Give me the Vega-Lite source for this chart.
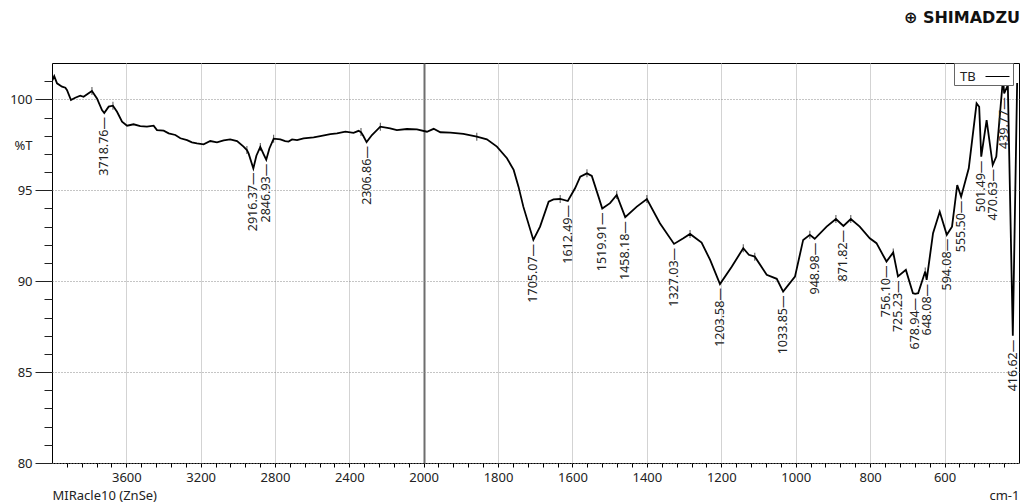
{
  "$schema": "https://vega.github.io/schema/vega-lite/v6.json",
  "width": 967,
  "height": 400,
  "autosize": {"type": "none"},
  "padding": {"left": 52, "top": 63, "right": 2, "bottom": 39},
  "background": "#ffffff",
  "title": {
    "text": "⊕ SHIMADZU",
    "anchor": "end",
    "frame": "group",
    "orient": "top",
    "offset": 37,
    "dx": 1,
    "font": "DejaVu Sans",
    "fontSize": 16,
    "fontWeight": "bold",
    "color": "#111111"
  },
  "config": {
    "font": "Noto Sans",
    "view": {"stroke": "#000000", "strokeWidth": 1}
  },
  "data": {
    "values": [
      {"w": 4000, "t": 101.0},
      {"w": 3988, "t": 101.28},
      {"w": 3973, "t": 100.88},
      {"w": 3946, "t": 100.7},
      {"w": 3928, "t": 100.64},
      {"w": 3919, "t": 100.5},
      {"w": 3898, "t": 99.96},
      {"w": 3875, "t": 100.09},
      {"w": 3848, "t": 100.2},
      {"w": 3830, "t": 100.14},
      {"w": 3803, "t": 100.33},
      {"w": 3785, "t": 100.46, "kind": "max"},
      {"w": 3758, "t": 100.05},
      {"w": 3731, "t": 99.41},
      {"w": 3718.76, "t": 99.25, "kind": "min"},
      {"w": 3695, "t": 99.6},
      {"w": 3672, "t": 99.65, "kind": "max"},
      {"w": 3650, "t": 99.32},
      {"w": 3623, "t": 98.77},
      {"w": 3596, "t": 98.55},
      {"w": 3561, "t": 98.63},
      {"w": 3525, "t": 98.53},
      {"w": 3489, "t": 98.5},
      {"w": 3453, "t": 98.55},
      {"w": 3435, "t": 98.31},
      {"w": 3399, "t": 98.28},
      {"w": 3372, "t": 98.13},
      {"w": 3336, "t": 98.04},
      {"w": 3309, "t": 97.86},
      {"w": 3273, "t": 97.76},
      {"w": 3247, "t": 97.64},
      {"w": 3220, "t": 97.58},
      {"w": 3184, "t": 97.53},
      {"w": 3148, "t": 97.71},
      {"w": 3112, "t": 97.64},
      {"w": 3076, "t": 97.75},
      {"w": 3041, "t": 97.8},
      {"w": 3004, "t": 97.7},
      {"w": 2969, "t": 97.4},
      {"w": 2951, "t": 97.21, "kind": "max"},
      {"w": 2942, "t": 97.03},
      {"w": 2916.37, "t": 96.2, "kind": "min"},
      {"w": 2900, "t": 96.9},
      {"w": 2879, "t": 97.38, "kind": "max"},
      {"w": 2862, "t": 97.0},
      {"w": 2846.93, "t": 96.68, "kind": "min"},
      {"w": 2830, "t": 97.3},
      {"w": 2807, "t": 97.84, "kind": "max"},
      {"w": 2771, "t": 97.8},
      {"w": 2745, "t": 97.7},
      {"w": 2727, "t": 97.68},
      {"w": 2708, "t": 97.8},
      {"w": 2681, "t": 97.76},
      {"w": 2646, "t": 97.86},
      {"w": 2592, "t": 97.91},
      {"w": 2556, "t": 97.98},
      {"w": 2502, "t": 98.09},
      {"w": 2466, "t": 98.13},
      {"w": 2421, "t": 98.22},
      {"w": 2377, "t": 98.16},
      {"w": 2350, "t": 98.27},
      {"w": 2337, "t": 98.2, "kind": "max"},
      {"w": 2325, "t": 98.0},
      {"w": 2306.86, "t": 97.65, "kind": "min"},
      {"w": 2278, "t": 98.04},
      {"w": 2233, "t": 98.5, "kind": "max"},
      {"w": 2180, "t": 98.41},
      {"w": 2144, "t": 98.31},
      {"w": 2090, "t": 98.37},
      {"w": 2036, "t": 98.35},
      {"w": 1991, "t": 98.22},
      {"w": 1973, "t": 98.38},
      {"w": 1955, "t": 98.19},
      {"w": 1928, "t": 98.17},
      {"w": 1893, "t": 98.1},
      {"w": 1857, "t": 97.95, "kind": "max"},
      {"w": 1830, "t": 97.8},
      {"w": 1803, "t": 97.4},
      {"w": 1776, "t": 96.76},
      {"w": 1758, "t": 96.12},
      {"w": 1745, "t": 95.2},
      {"w": 1732, "t": 94.1},
      {"w": 1705.07, "t": 92.27, "kind": "min"},
      {"w": 1687, "t": 93.0},
      {"w": 1664, "t": 94.37},
      {"w": 1651, "t": 94.5},
      {"w": 1633, "t": 94.52, "kind": "max"},
      {"w": 1612.49, "t": 94.41, "kind": "min"},
      {"w": 1593, "t": 95.11},
      {"w": 1579, "t": 95.75},
      {"w": 1561, "t": 95.93, "kind": "max"},
      {"w": 1548, "t": 95.79},
      {"w": 1530, "t": 94.65},
      {"w": 1519.91, "t": 94.0, "kind": "min"},
      {"w": 1499, "t": 94.29},
      {"w": 1481, "t": 94.74, "kind": "max"},
      {"w": 1458.18, "t": 93.52, "kind": "min"},
      {"w": 1427, "t": 94.1},
      {"w": 1400, "t": 94.52, "kind": "max"},
      {"w": 1365, "t": 93.19},
      {"w": 1327.03, "t": 92.05, "kind": "min"},
      {"w": 1302, "t": 92.36},
      {"w": 1284, "t": 92.6, "kind": "max"},
      {"w": 1253, "t": 92.12},
      {"w": 1230, "t": 91.17},
      {"w": 1203.58, "t": 89.84, "kind": "min"},
      {"w": 1172, "t": 90.8},
      {"w": 1141, "t": 91.81, "kind": "max"},
      {"w": 1126, "t": 91.45},
      {"w": 1110, "t": 91.35, "kind": "max"},
      {"w": 1078, "t": 90.35},
      {"w": 1051, "t": 90.13},
      {"w": 1033.85, "t": 89.43, "kind": "min"},
      {"w": 1002, "t": 90.25},
      {"w": 980, "t": 92.27},
      {"w": 962, "t": 92.55, "kind": "max"},
      {"w": 948.98, "t": 92.33, "kind": "min"},
      {"w": 917, "t": 93.0},
      {"w": 892, "t": 93.42, "kind": "max"},
      {"w": 871.82, "t": 93.04, "kind": "min"},
      {"w": 852, "t": 93.42, "kind": "max"},
      {"w": 828, "t": 93.0},
      {"w": 801, "t": 92.36},
      {"w": 783, "t": 92.09},
      {"w": 756.1, "t": 91.08, "kind": "min"},
      {"w": 738, "t": 91.58, "kind": "max"},
      {"w": 725.23, "t": 90.26, "kind": "min"},
      {"w": 704, "t": 90.62},
      {"w": 685, "t": 89.34},
      {"w": 678.94, "t": 89.3, "kind": "min"},
      {"w": 671, "t": 89.34},
      {"w": 652, "t": 90.53, "kind": "max"},
      {"w": 648.08, "t": 90.07, "kind": "min"},
      {"w": 631, "t": 92.64},
      {"w": 613, "t": 93.82},
      {"w": 594.08, "t": 92.55, "kind": "min"},
      {"w": 580, "t": 93.0},
      {"w": 566, "t": 95.29},
      {"w": 555.5, "t": 94.65, "kind": "min"},
      {"w": 535, "t": 96.21},
      {"w": 514, "t": 99.78},
      {"w": 507, "t": 99.59},
      {"w": 501.49, "t": 96.85, "kind": "min"},
      {"w": 487, "t": 98.86},
      {"w": 470.63, "t": 96.39, "kind": "min"},
      {"w": 461, "t": 96.85},
      {"w": 443, "t": 101.15},
      {"w": 439.77, "t": 100.33, "kind": "min"},
      {"w": 430, "t": 100.79},
      {"w": 416.62, "t": 87.0, "kind": "min"},
      {"w": 405, "t": 100.9}
    ]
  },
  "layer": [
    {
      "mark": {"type": "line", "color": "#000000", "strokeWidth": 1.8, "clip": true},
      "encoding": {
        "x": {
          "field": "w",
          "type": "quantitative",
          "scale": {"domain": [4000, 2000, 400], "range": [0, 371.6, 967], "nice": false, "zero": false},
          "axis": {
            "orient": "bottom",
            "values": [3600, 3200, 2800, 2400, 2000, 1800, 1600, 1400, 1200, 1000, 800, 600],
            "format": "d",
            "grid": true,
            "gridColor": {"condition": {"test": "datum.value === 2000", "value": "#6e6e6e"}, "value": "#d3d3d3"},
            "gridWidth": {"condition": {"test": "datum.value === 2000", "value": 2}, "value": 1},
            "domain": false,
            "tickSize": 4,
            "tickColor": "#000000",
            "labelFontSize": 13,
            "labelColor": "#222222",
            "labelPadding": 4,
            "labelFlush": false,
            "labelOverlap": false,
            "title": "MIRacle10 (ZnSe)",
            "titleFontSize": 13,
            "titleFontWeight": "normal",
            "titleColor": "#222222",
            "titleAnchor": "start",
            "titleAlign": "left",
            "titleBaseline": "middle",
            "titleX": 0,
            "titleY": 32
          }
        },
        "y": {
          "field": "t",
          "type": "quantitative",
          "scale": {"domain": [80, 102], "nice": false, "zero": false},
          "axis": {
            "orient": "left",
            "values": [80, 85, 90, 95, 100],
            "grid": true,
            "gridColor": "#8a8a8a",
            "gridDash": [1, 2],
            "domain": false,
            "tickSize": 17,
            "tickColor": "#222222",
            "labelFontSize": 13,
            "labelColor": "#222222",
            "labelPadding": 3,
            "title": "%T",
            "titleFontSize": 13,
            "titleFontWeight": "normal",
            "titleColor": "#222222",
            "titleAngle": 0,
            "titleAlign": "left",
            "titleBaseline": "middle",
            "titleX": -38,
            "titleY": 82
          }
        },
        "color": {
          "datum": "TB",
          "scale": {"range": ["#000000"]},
          "legend": {
            "title": null,
            "orient": "none",
            "legendX": 902,
            "legendY": 0,
            "symbolType": "stroke",
            "symbolStrokeWidth": 1,
            "symbolSize": 576,
            "symbolOffset": 30,
            "labelFontSize": 13,
            "labelColor": "#222222",
            "labelAlign": "left",
            "labelOffset": -50,
            "strokeColor": "#666666",
            "fillColor": "#ffffff",
            "padding": 1
          }
        }
      }
    },
    {
      "transform": [{"filter": "datum.kind === 'max'"}],
      "mark": {"type": "tick", "orient": "vertical", "size": 8, "thickness": 1, "color": "#000000"},
      "encoding": {
        "x": {
          "field": "w",
          "type": "quantitative",
          "axis": {
            "orient": "bottom",
            "values": [3920, 3840, 3760, 3680, 3520, 3440, 3360, 3280, 3120, 3040, 2960, 2880, 2720, 2640, 2560, 2480, 2320, 2240, 2160, 2080, 1960, 1920, 1880, 1840, 1760, 1720, 1680, 1640, 1560, 1520, 1480, 1440, 1360, 1320, 1280, 1240, 1160, 1120, 1080, 1040, 960, 920, 880, 840, 760, 720, 680, 640, 560, 520, 480, 440],
            "grid": false,
            "domain": false,
            "labels": false,
            "tickSize": 4,
            "tickColor": "#000000",
            "title": "cm-1",
            "titleFontSize": 13,
            "titleFontWeight": "normal",
            "titleColor": "#222222",
            "titleAnchor": "end",
            "titleAlign": "right",
            "titleBaseline": "middle",
            "titleX": 967,
            "titleY": 32
          }
        },
        "y": {
          "field": "t",
          "type": "quantitative",
          "axis": {
            "orient": "left",
            "values": [81, 82, 83, 84, 86, 87, 88, 89, 91, 92, 93, 94, 96, 97, 98, 99, 101],
            "grid": false,
            "domain": false,
            "labels": false,
            "tickSize": 8,
            "tickColor": "#222222",
            "title": null
          }
        }
      }
    },
    {
      "transform": [
        {"filter": "datum.kind === 'min'"},
        {"calculate": "format(datum.w, '.2f') + '—'", "as": "label"}
      ],
      "mark": {"type": "text", "angle": 270, "align": "right", "baseline": "middle", "dx": -4, "fontSize": 12.5, "color": "#222222"},
      "encoding": {
        "x": {"field": "w", "type": "quantitative", "axis": null},
        "y": {"field": "t", "type": "quantitative", "axis": null},
        "text": {"field": "label"}
      }
    }
  ],
  "resolve": {"axis": {"x": "independent", "y": "independent"}}
}
